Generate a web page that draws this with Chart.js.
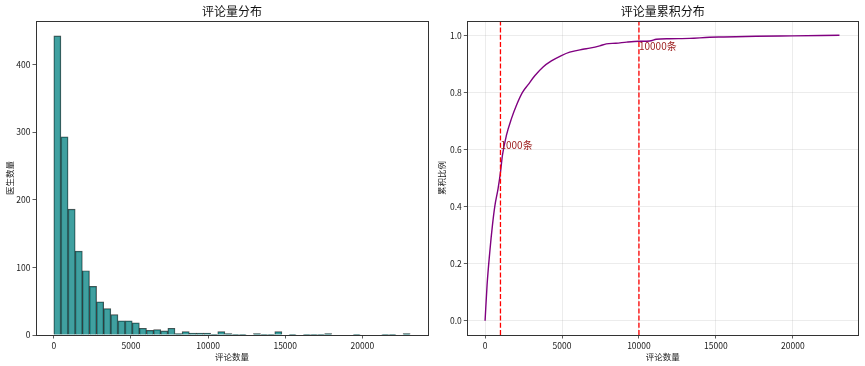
<!DOCTYPE html>
<html>
<head>
<meta charset="utf-8">
<script src="https://cdn.jsdelivr.net/npm/chart.js@4.4.1/dist/chart.umd.min.js"></script>
<style>
  html, body { margin: 0; padding: 0; background: #fff; }
  #wrap { position: relative; width: 865px; height: 366px; }
  canvas { position: absolute; top: 0; }
</style>
</head>
<body>
<div id="wrap">
  <canvas id="hist" width="432" height="366" style="left:0"></canvas>
  <canvas id="cdf" width="433" height="366" style="left:432px"></canvas>
</div>
<script>
// histogram: 50 bins of 462 comments each, 0 .. 23100
const binCenters = [
  231, 693, 1155, 1617, 2079, 2541, 3003, 3465, 3927, 4389,
  4851, 5313, 5775, 6237, 6699, 7161, 7623, 8085, 8547, 9009,
  9471, 9933, 10395, 10857, 11319, 11781, 12243, 12705, 13167, 13629,
  14091, 14553, 15015, 15477, 15939, 16401, 16863, 17325, 17787, 18249,
  18711, 19173, 19635, 20097, 20559, 21021, 21483, 21945, 22407, 22869
];
const doctorCounts = [
  442, 293, 186, 124, 95, 72, 49, 39, 30, 21,
  21, 18, 10, 7, 8, 6, 10, 2, 5, 3,
  3, 3, 1, 5, 2, 1, 1, 0, 2, 1,
  1, 5, 0, 1, 0, 1, 1, 1, 2, 0,
  0, 0, 1, 0, 0, 0, 1, 1, 0, 2
];

// cumulative share of doctors
const cumComments = [0, 130, 305, 480, 630, 845, 1000, 1130, 1390, 1714, 2040, 2430, 2800, 3230, 3770, 4310, 4960, 5500, 6360, 6800, 7450, 7880, 8500, 9200, 10000, 10700, 11130, 12000, 13290, 14590, 15500, 17610, 20000, 23030];
const cumShare = [0, 0.125, 0.24, 0.335, 0.40, 0.463, 0.52, 0.58, 0.65, 0.708, 0.755, 0.80, 0.827, 0.858, 0.889, 0.91, 0.929, 0.941, 0.951, 0.955, 0.963, 0.97, 0.972, 0.976, 0.979, 0.980, 0.986, 0.988, 0.989, 0.993, 0.994, 0.9965, 0.998, 1.0];

const commentTicks = [0, 5000, 10000, 15000, 20000];
const countTicks = [0, 100, 200, 300, 400];
const shareTicks = [0, 0.2, 0.4, 0.6, 0.8, 1.0];

const markValues = [1000, 10000];
const markLabels = ['1000条', '10000条'];
const markLabelY = [0.6, 0.95];

const FONT = '"Noto Sans CJK SC", "DejaVu Sans", sans-serif';

const colors = {
  bar: 'rgba(0, 128, 128, 0.75)',
  barEdge: 'rgba(0, 0, 0, 0.7)',
  line: '#800080',
  mark: '#ff0000',
  markText: '#9b1c1c',
  spine: '#333333',
  grid: 'rgba(176, 176, 176, 0.3)',
  text: '#222222'
};

const frame = {
  id: 'frame',
  afterDraw(chart) {
    const { ctx, chartArea: a } = chart;
    ctx.save();
    ctx.strokeStyle = colors.spine;
    ctx.lineWidth = 1;
    ctx.strokeRect(Math.round(a.left) + 0.5, Math.round(a.top) + 0.5,
      Math.round(a.right - a.left), Math.round(a.bottom - a.top));
    ctx.restore();
  }
};

const refMarks = {
  id: 'refMarks',
  afterDatasetsDraw(chart) {
    const { ctx, chartArea: a, scales: { x, y } } = chart;
    ctx.save();
    markValues.forEach((v, i) => {
      const px = x.getPixelForValue(v);
      ctx.strokeStyle = colors.mark;
      ctx.lineWidth = 1.3;
      ctx.setLineDash([5, 2.2]);
      ctx.beginPath();
      ctx.moveTo(px, a.bottom);
      ctx.lineTo(px, a.top);
      ctx.stroke();
      ctx.setLineDash([]);
      ctx.fillStyle = colors.markText;
      ctx.font = `10px ${FONT}`;
      ctx.textBaseline = 'alphabetic';
      ctx.textAlign = 'left';
      ctx.fillText(markLabels[i], px, y.getPixelForValue(markLabelY[i]));
    });
    ctx.restore();
  }
};

const axis = (min, max, tickValues, title, width, gridOn, fmt) => ({
  type: 'linear',
  min, max,
  offset: false,
  afterFit: s => {
    if (s.isHorizontal()) s.height = 31;
    else s.width = width;
  },
  afterBuildTicks: s => { s.ticks = tickValues.map(v => ({ value: v })); },
  border: { display: false },
  grid: {
    offset: false,
    drawOnChartArea: gridOn,
    color: colors.grid,
    lineWidth: 0.8,
    tickColor: colors.spine,
    tickLength: 3.5
  },
  ticks: {
    autoSkip: false,
    maxRotation: 0,
    padding: 2,
    color: colors.text,
    font: { family: FONT, size: 8.5 },
    callback: fmt || (v => String(v))
  },
  title: {
    display: true,
    text: title,
    color: colors.text,
    font: { family: FONT, size: 8.5 },
    padding: width ? { top: 5, bottom: 0 } : { top: 0, bottom: 4 }
  }
});

const titleOpts = text => ({
  display: true,
  text,
  fullSize: false,
  color: '#111',
  font: { family: FONT, size: 12, weight: 'normal' },
  padding: { top: 4.5, bottom: 2.1 }
});

new Chart(document.getElementById('hist'), {
  type: 'bar',
  data: {
    datasets: [{
      data: binCenters.map((x, i) => ({ x, y: doctorCounts[i] })),
      backgroundColor: colors.bar,
      borderColor: colors.barEdge,
      borderWidth: 0.8,
      barPercentage: 1,
      categoryPercentage: 1
    }]
  },
  options: {
    responsive: false,
    animation: false,
    devicePixelRatio: 1,
    layout: { padding: { left: 0, right: 4, top: 0, bottom: 0 } },
    plugins: {
      legend: { display: false },
      tooltip: { enabled: false },
      title: titleOpts('评论量分布')
    },
    scales: {
      x: axis(-1155, 24255, commentTicks, '评论数量', 0, false),
      y: axis(0, 464.1, countTicks, '医生数量', 36, false)
    }
  },
  plugins: [frame]
});

new Chart(document.getElementById('cdf'), {
  type: 'scatter',
  data: {
    datasets: [{
      data: cumComments.map((x, i) => ({ x, y: cumShare[i] })),
      showLine: true,
      borderColor: colors.line,
      borderWidth: 1.4,
      pointRadius: 0,
      cubicInterpolationMode: 'monotone'
    }]
  },
  options: {
    responsive: false,
    animation: false,
    devicePixelRatio: 1,
    layout: { padding: { left: 0, right: 6.7, top: 0, bottom: 0 } },
    plugins: {
      legend: { display: false },
      tooltip: { enabled: false },
      title: titleOpts('评论量累积分布')
    },
    scales: {
      x: axis(-1155, 24255, commentTicks, '评论数量', 0, true),
      y: axis(-0.05, 1.05, shareTicks, '累积比例', 35.3, true, v => v.toFixed(1))
    }
  },
  plugins: [refMarks, frame]
});
</script>
</body>
</html>
